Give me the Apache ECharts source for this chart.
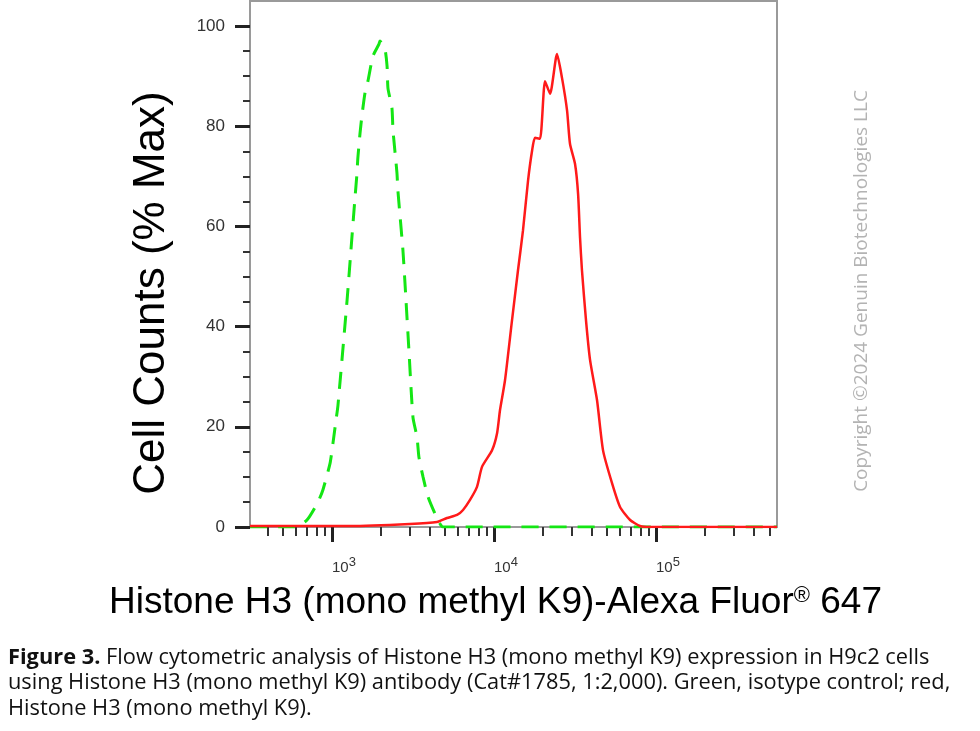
<!DOCTYPE html>
<html>
<head>
<meta charset="utf-8">
<script src="https://cdn.jsdelivr.net/npm/echarts@6/dist/echarts.min.js"></script>
<style>
  html, body { margin: 0; padding: 0; background: #fff; }
  #chart { width: 980px; height: 731px; }
</style>
</head>
<body>
<div id="chart"></div>
<script>
// fluorescence intensity (x) and % of max (y)
const isotypeX = [312, 478, 592, 701, 820, 879, 973, 1014, 1059, 1089, 1239, 1309, 1387, 1426, 1445, 1489,
  1531, 1600, 1667, 1791, 1950, 1977, 2123, 2188, 2218, 2344, 2382, 2518, 2553, 2742, 2864, 2985,
  3162, 3350, 3443, 3648, 3917, 4446, 4842, 6166, 558000];
const isotypeY = [0, 0, 0, 1.4, 5.0, 7.4, 12.7, 16.7, 21.3, 24.3, 45.2, 55.2, 65.7, 70.5, 73.7, 78.5,
  82.1, 86.7, 89.0, 94.0, 96.4, 97.0, 95.4, 92.0, 87.5, 83.7, 79.1, 70.7, 67.1, 55.2, 45.2, 35.3,
  21.9, 17.9, 13.9, 10.0, 6.0, 1.8, 0, 0, 0];

const h3k9X = [312, 634, 1291, 3027, 4446, 5129, 5916, 6442, 7112, 7852, 8433, 9727, 10447, 10889, 11695,
  12912, 14060, 15100, 16218, 17179, 17906, 19231, 20654, 22182, 24491, 26303, 28249, 29444, 31623,
  33037, 33963, 34914, 36983, 39174, 43251, 47098, 53456, 59979, 69183, 79616, 91833, 558000];
const h3k9Y = [0.2, 0.2, 0.2, 0.6, 1.0, 1.8, 2.4, 3.4, 5.4, 8.0, 12.0, 15.3, 18.7, 23.3, 29.3,
  41.2, 51.2, 59.2, 69.1, 75.1, 77.7, 77.5, 89.0, 86.5, 94.4, 89.6, 83.1, 76.5, 72.5,
  66.5, 57.8, 51.2, 41.2, 33.3, 25.3, 15.3, 8.8, 4.0, 1.4, 0.2, 0, 0];

const xMin = 312;
const xMax = 558000;
const yMax = 105;

const xMajorExponents = [3, 4, 5];
const xMinorValues = [400, 500, 600, 700, 800, 900,
  2000, 3000, 4000, 5000, 6000, 7000, 8000, 9000,
  20000, 30000, 40000, 50000, 60000, 70000, 80000, 90000,
  200000, 300000, 400000, 500000];
const yMajorValues = [0, 20, 40, 60, 80, 100];
const yMinorValues = [5, 10, 15, 25, 30, 35, 45, 50, 55, 65, 70, 75, 85, 90, 95];

const captionLines = [
  "{b|Figure 3.} Flow cytometric analysis of Histone H3 (mono methyl K9) expression in H9c2 cells",
  "using Histone H3 (mono methyl K9) antibody (Cat#1785, 1:2,000). Green, isotype control; red,",
  "Histone H3 (mono methyl K9)."
];

const FONT = "'Liberation Sans', Arial, Helvetica, sans-serif";
const CAPTION_FONT = "'Open Sans', sans-serif";

const toPoints = (xs, ys) => xs.map((x, i) => [Math.log10(x), ys[i]]);

const chart = echarts.init(document.getElementById("chart"));

chart.setOption({
  animation: false,
  grid: {
    left: 250, right: 203, top: 1, bottom: 204,
    show: true, borderColor: "#9a9a9a", borderWidth: 2,
    outerBoundsMode: "none"
  },
  xAxis: [
    {
      type: "value",
      min: Math.log10(xMin),
      max: Math.log10(xMax),
      position: "bottom",
      name: "{n|Histone H3 (mono methyl K9)-Alexa Fluor}{r|®}{n| 647}",
      nameLocation: "middle",
      nameGap: 57,
      nameTextStyle: {
        padding: [0, 36, 0, 0],
        rich: {
          n: { fontFamily: FONT, fontSize: 37, color: "#000" },
          r: { fontFamily: FONT, fontSize: 22, color: "#000", padding: [0, 0, 14, 0] }
        }
      },
      axisLine: { onZero: false, lineStyle: { color: "#9a9a9a", width: 2 } },
      axisTick: {
        customValues: xMajorExponents,
        length: 15,
        lineStyle: { color: "#222", width: 3 }
      },
      axisLabel: {
        customValues: xMajorExponents,
        margin: 29,
        align: "left",
        formatter: (v) => "{a|10}{s|" + Math.round(v) + "}",
        rich: {
          a: { fontFamily: FONT, fontSize: 15, color: "#333" },
          s: { fontFamily: FONT, fontSize: 13, color: "#333", padding: [0, 0, 10, 0] }
        }
      },
      splitLine: { show: false }
    },
    {
      type: "value",
      min: Math.log10(xMin),
      max: Math.log10(xMax),
      position: "bottom",
      axisLine: { show: false, onZero: false },
      axisTick: {
        customValues: xMinorValues.map((v) => Math.log10(v)),
        length: 9,
        lineStyle: { color: "#333", width: 2 }
      },
      axisLabel: { show: false },
      splitLine: { show: false }
    }
  ],
  yAxis: [
    {
      type: "value",
      min: 0,
      max: yMax,
      position: "left",
      name: "Cell Counts (% Max)",
      nameLocation: "middle",
      nameGap: 76,
      nameTextStyle: { fontFamily: FONT, fontSize: 44, color: "#000", padding: [0, 58, 0, 0] },
      axisLine: { show: true, onZero: false, lineStyle: { color: "#9a9a9a", width: 2 } },
      axisTick: {
        customValues: yMajorValues,
        length: 15,
        lineStyle: { color: "#222", width: 3 }
      },
      axisLabel: {
        customValues: yMajorValues,
        margin: 25,
        fontFamily: FONT,
        fontSize: 17,
        color: "#333"
      },
      splitLine: { show: false }
    },
    {
      type: "value",
      min: 0,
      max: yMax,
      position: "left",
      axisLine: { show: false, onZero: false },
      axisTick: {
        customValues: yMinorValues,
        length: 7,
        lineStyle: { color: "#333", width: 2 }
      },
      axisLabel: { show: false },
      splitLine: { show: false }
    }
  ],
  series: [
    {
      name: "Isotype control",
      type: "line",
      data: toPoints(isotypeX, isotypeY),
      showSymbol: false,
      smooth: 0.2,
      lineStyle: { color: "#14e614", width: 3, type: [17, 11] },
      z: 2
    },
    {
      name: "Histone H3 (mono methyl K9)",
      type: "line",
      data: toPoints(h3k9X, h3k9Y),
      showSymbol: false,
      smooth: 0.2,
      lineStyle: { color: "#ff1a1a", width: 2.5 },
      z: 3
    }
  ],
  graphic: [
    {
      type: "text",
      x: 862,
      y: 291,
      rotation: Math.PI / 2,
      style: {
        text: "Copyright ©2024 Genuin Biotechnologies LLC",
        font: "19px 'Open Sans', sans-serif",
        fill: "#b3b3b3",
        align: "center",
        verticalAlign: "middle"
      }
    },
    {
      type: "text",
      x: 8,
      y: 645,
      style: {
        text: captionLines.join("\n"),
        fill: "#111",
        font: "21.8px " + CAPTION_FONT,
        lineHeight: 25.5,
        verticalAlign: "top",
        rich: {
          b: { fontFamily: CAPTION_FONT, fontSize: 21.8, fontWeight: "bold", lineHeight: 25.5 }
        }
      }
    }
  ]
});
</script>
</body>
</html>
